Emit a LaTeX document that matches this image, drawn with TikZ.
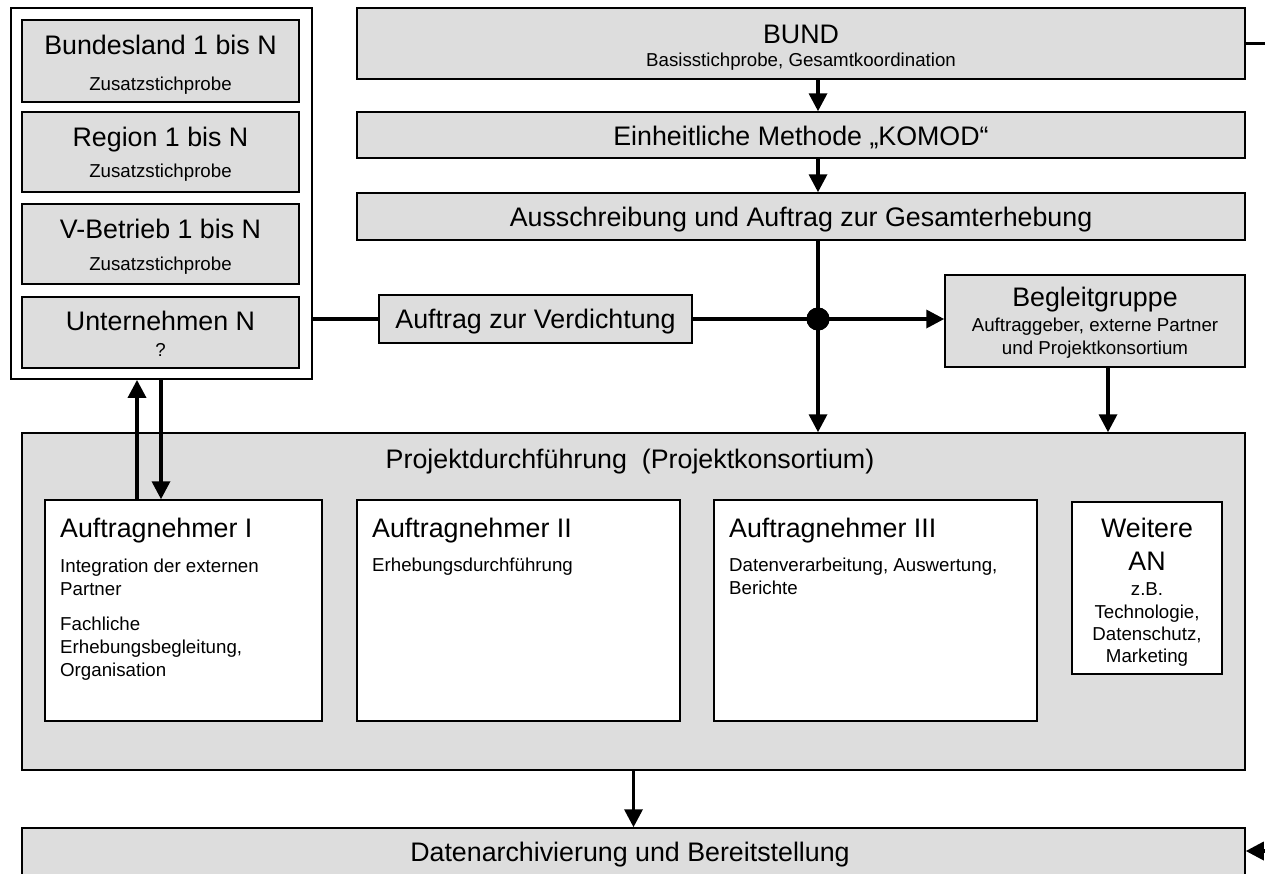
\documentclass[tikz,border=0pt]{standalone}
\usepackage{fontspec}
\setmainfont{Liberation Sans}
\usetikzlibrary{arrows.meta,fit}
\definecolor{panel}{RGB}{221,221,221}
\tikzset{
  box/.style={draw=black, line width=1.5pt, inner sep=0pt},
  graybox/.style={box, fill=panel},
  whitebox/.style={box, fill=white},
  big/.style={font=\fontsize{26.8}{30}\selectfont, inner sep=0pt, anchor=base},
  small/.style={font=\fontsize{18.7}{22}\selectfont, inner sep=0pt, anchor=base},
  conn/.style={line width=3.5pt},
  arr/.style={conn, -{Triangle[length=18pt,width=18pt]}},
}
\begin{document}
\begin{tikzpicture}[x=1pt,y=-1pt]
\useasboundingbox (0,0) rectangle (1265,873);

% ---- regional samples (left column) ----
\node[whitebox, line width=1.8pt, fit={(11,8) (312,379)}] (outer) {};
\node[graybox, fit={(22,20) (299,102)}]  (land) {};
\node[graybox, fit={(22,112) (299,192)}] (region) {};
\node[graybox, fit={(22,204) (299,284)}] (vbetr) {};
\node[graybox, fit={(22,297) (299,368)}] (untern) {};

\node[big]   (landT)   at (160.5,54)  {Bundesland 1 bis N};
\node[small] (landS)   at (160.5,90)  {Zusatzstichprobe};
\node[big]   (regionT) at (160.5,146) {Region 1 bis N};
\node[small] (regionS) at (160.5,177) {Zusatzstichprobe};
\node[big]   (vbetrT)  at (160.5,238) {V-Betrieb 1 bis N};
\node[small] (vbetrS)  at (160.5,270) {Zusatzstichprobe};
\node[big]   (unternT) at (160.5,330) {Unternehmen N};
\node[small] (unternS) at (160.5,356) {?};

% ---- federal chain ----
\node[graybox, fit={(357,8) (1245,79)}]    (bund) {};
\node[graybox, fit={(357,112) (1245,158)}] (komod) {};
\node[graybox, fit={(357,193) (1245,240)}] (aus) {};
\node[big]   (bundT)  at (801,43)  {BUND};
\node[small] (bundS)  at (801,66)  {Basisstichprobe, Gesamtkoordination};
\node[big]   (komodT) at (801,145) {Einheitliche Methode „KOMOD“};
\node[big]   (ausT)   at (801,226) {Ausschreibung und Auftrag zur Gesamterhebung};

% ---- densification order and steering group ----
\node[graybox, fit={(379,295) (692,343)}] (verd) {};
\node[big] (verdT) at (535.5,328) {Auftrag zur Verdichtung};
\node[graybox, fit={(945,275) (1245,367)}] (begl) {};
\node[big]   (beglT)  at (1095,306) {Begleitgruppe};
\node[small] (beglS1) at (1095,331) {Auftraggeber, externe Partner};
\node[small] (beglS2) at (1095,354) {und Projektkonsortium};

% ---- project consortium ----
\node[graybox, fit={(22,433) (1245,770)}] (proj) {};
\node[big] (projT) at (630,468) {Projektdurchführung\ \ (Projektkonsortium)};

\node[whitebox, fit={(45,500) (322,721)}]    (an1) {};
\node[whitebox, fit={(357,500) (680,721)}]   (an2) {};
\node[whitebox, fit={(714,500) (1037,721)}]  (an3) {};
\node[whitebox, fit={(1072,502) (1222,674)}] (anx) {};

\node[big, anchor=base west]   (an1T)  at (60,537) {Auftragnehmer I};
\node[small, anchor=base west] (an1a)  at (60,572) {Integration der externen};
\node[small, anchor=base west] (an1b)  at (60,595) {Partner};
\node[small, anchor=base west] (an1c)  at (60,630) {Fachliche};
\node[small, anchor=base west] (an1d)  at (60,653) {Erhebungsbegleitung,};
\node[small, anchor=base west] (an1e)  at (60,676) {Organisation};

\node[big, anchor=base west]   (an2T)  at (372,537) {Auftragnehmer II};
\node[small, anchor=base west] (an2a)  at (372,571) {Erhebungsdurchführung};

\node[big, anchor=base west]   (an3T)  at (729,537) {Auftragnehmer III};
\node[small, anchor=base west] (an3a)  at (729,571) {Datenverarbeitung, Auswertung,};
\node[small, anchor=base west] (an3b)  at (729,594) {Berichte};

\node[big]   (anxT1) at (1147,537) {Weitere};
\node[big]   (anxT2) at (1147,570) {AN};
\node[small] (anxa)  at (1147,595) {z.B.};
\node[small] (anxb)  at (1147,618) {Technologie,};
\node[small] (anxc)  at (1147,640) {Datenschutz,};
\node[small] (anxd)  at (1147,662) {Marketing};

% ---- archive ----
\node[graybox, fit={(22,828) (1245,900)}] (daten) {};
\node[big] (datenT) at (630,861) {Datenarchivierung und Bereitstellung};

% ---- connectors ----
\node[circle, fill=black, minimum size=23pt, inner sep=0pt] (dot) at (818,319) {};
\coordinate (bx)   at (1108,0);
\coordinate (upx)  at (137,0);
\coordinate (dnx)  at (161,0);
\coordinate (edgeA) at (1268,43.5);
\coordinate (edgeB) at (1268,851);

\draw[arr]  (bund.south -| dot) -- (komod.north -| dot);
\draw[arr]  (komod.south -| dot) -- (aus.north -| dot);
\draw[conn] (aus.south -| dot) -- (dot.center);
\draw[arr]  (dot.center) -- (proj.north -| dot);
\draw[conn] (outer.east |- dot) -- (verd.west |- dot);
\draw[conn] (verd.east |- dot) -- (dot.center);
\draw[arr]  (dot.center) -- (begl.west |- dot);
\draw[arr]  (begl.south -| bx) -- (proj.north -| bx);
\draw[arr]  (an1.north -| upx) -- (outer.south -| upx);
\draw[arr]  (outer.south -| dnx) -- (an1.north -| dnx);
\draw[arr]  (proj.south) -- (daten.north);
\draw[conn] (bund.east) -- (edgeA);
\draw[arr]  (edgeB) -- (daten.east |- edgeB);
\node[circle, fill=black, minimum size=23pt, inner sep=0pt] (dotTop) at (dot) {};
\end{tikzpicture}
\end{document}
